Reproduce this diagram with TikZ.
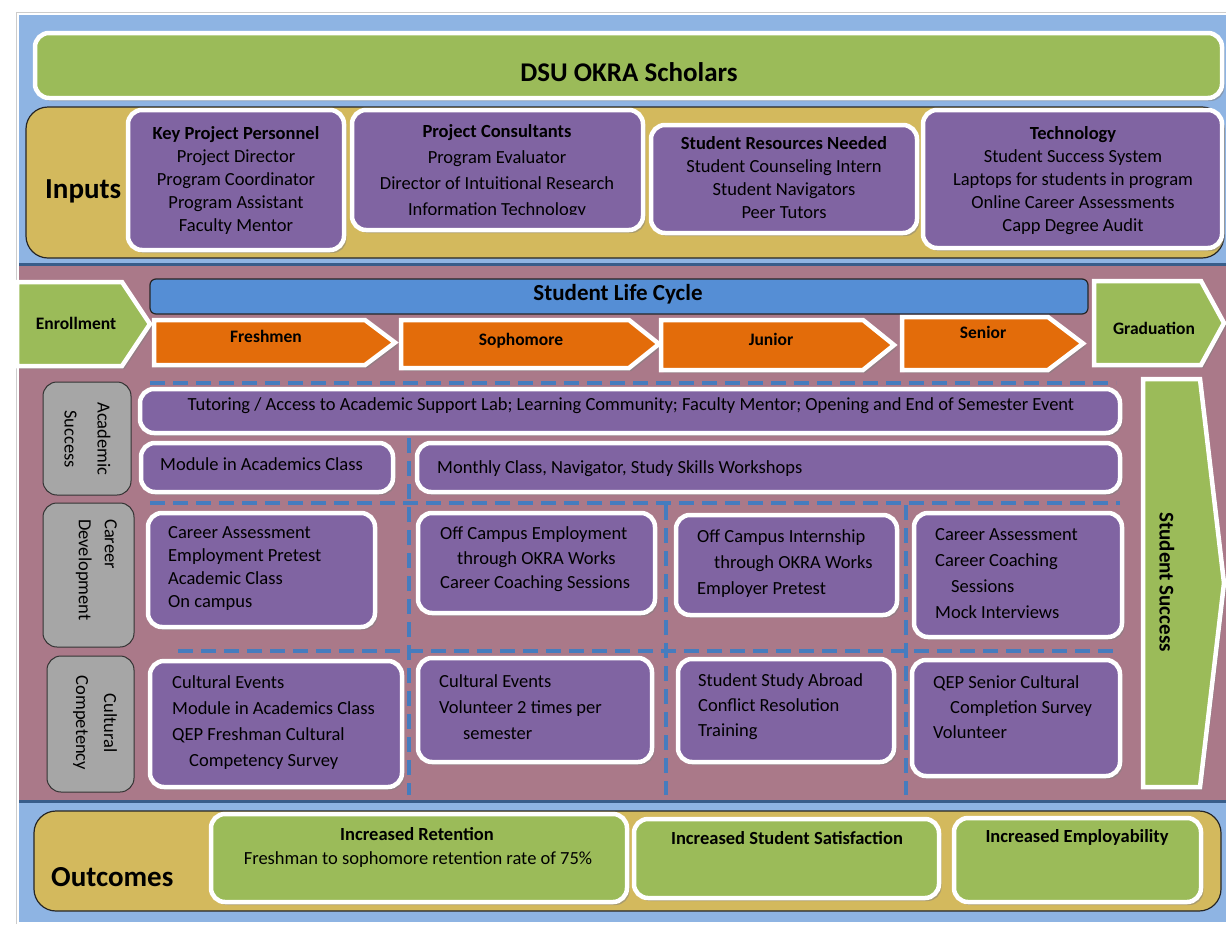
\documentclass[tikz,border=0pt]{standalone}
\usepackage{fontspec}
\setmainfont{Carlito}
\usetikzlibrary{fit,shadows,calc}

\definecolor{skyblue}{RGB}{142,180,227}
\definecolor{rulblue}{RGB}{56,93,138}
\definecolor{okgreen}{RGB}{155,187,89}
\definecolor{okgold}{RGB}{211,185,93}
\definecolor{okpurple}{RGB}{128,100,162}
\definecolor{okmauve}{RGB}{170,121,137}
\definecolor{okorange}{RGB}{227,108,10}
\definecolor{okbar}{RGB}{85,142,213}
\definecolor{okgray}{RGB}{166,166,166}
\definecolor{dashblue}{RGB}{70,124,190}

\newcommand{\bodysize}{\fontsize{18.5}{23}\selectfont}
\newcommand{\chevron}[6][chev]{% style, left, top, tip, bottom, tip length
  \draw[#1] (#2,#3) -- ({#4-#6},#3) -- (#4,{(#3+#5)/2}) -- ({#4-#6},#5) -- (#2,#5) -- cycle;}

\tikzset{
  okra/.style={x=1pt, y=-1pt, inner sep=0pt, font=\bodysize},
  band/.style={fill=okgold, draw=black!85, line width=1.2pt, rounded corners=22pt},
  card/.style={draw=white, line width=4.5pt, rounded corners=14pt,
    drop shadow={shadow xshift=2.5pt, shadow yshift=-3pt, opacity=.5}},
  pcard/.style={card, fill=okpurple},
  gcard/.style={card, fill=okgreen},
  chev/.style={card, fill=okorange, sharp corners},
  gchev/.style={chev, fill=okgreen},
  tag/.style={fill=okgray, draw=black!80, line width=1pt, rounded corners=14pt},
  lane/.style={draw=dashblue, line width=3.2pt, dash pattern=on 15pt off 8pt},
  lead/.style={font=\fontsize{18.5}{#1}\selectfont},
  txt/.style={align=left, anchor=north west},
  ctr/.style={align=center, anchor=north},
  stage/.style={anchor=base, font=\fontsize{17.5}{20}\selectfont\bfseries},
  side/.style={rotate=-90, font=\fontsize{18.5}{26}\selectfont},
  big/.style={anchor=base west, font=\fontsize{29}{34}\selectfont\bfseries}
}

\begin{document}
\begin{tikzpicture}[okra]
\useasboundingbox (0,0) rectangle (1226,924);
\fill[white] (0,0) rectangle (1226,924);
\draw[black!20, line width=1pt] (16,924) -- (16,12) -- (1226,12);
\fill[skyblue] (19,15) rectangle (1226,922);
\fill[okmauve] (19,265) rectangle (1226,800);
\draw[rulblue, line width=3pt] (19,264) -- (1226,264) (19,801) -- (1226,801);
%
\node[gcard, fit={(35,33) (1222,98)}] (title) {};
\node[anchor=base, font=\fontsize{27}{30}\selectfont\bfseries] (titletxt) at (629,81) {DSU OKRA Scholars};
%
% inputs
\node[band, fit={(26,107) (1224,258)}] (inputs) {};
\node[big] (inputstxt) at (45,198) {Inputs};
\node[pcard, fit={(128,110) (344,250)}] (kpp) {};
\node[pcard, fit={(352,110) (643,230)}] (consult) {};
\node[pcard, fit={(651,125) (917,233)}] (resource) {};
\node[pcard, fit={(923,110) (1222,248)}] (tech) {};
\node[ctr] (kpptxt) at (236,126.5) {\textbf{Key Project Personnel}\\Project Director\\Program Coordinator\\Program Assistant\\Faculty Mentor};
\begin{scope}
  \clip (352,110) rectangle (643,214);
  \node[ctr, lead=26] (consulttxt) at (497,124.5) {\textbf{Project Consultants}\\Program Evaluator\\Director of Intuitional Research\\Information Technology};
\end{scope}
\node[ctr] (resourcetxt) at (784,136.5) {\textbf{Student Resources Needed}\\Student Counseling Intern\\Student Navigators\\Peer Tutors};
\node[ctr] (techtxt) at (1073,126.5) {\textbf{Technology}\\Student Success System\\Laptops for students in program\\Online Career Assessments\\Capp Degree Audit};
%
% life cycle
\node[fill=okbar, draw=black!85, line width=1.2pt, rounded corners=6pt, fit={(150,279) (1088,314)}] (cycle) {};
\node[anchor=base, font=\fontsize{23}{26}\selectfont\bfseries] (cycletxt) at (618,300) {Student Life Cycle};
\chevron[gchev]{17}{282}{150}{366}{28}
\chevron{154}{320}{395}{365}{30}
\chevron{401}{320}{659}{368}{30}
\chevron{661}{320}{894}{370}{31}
\chevron{902}{317}{1083}{370}{35}
\chevron[gchev]{1094}{281}{1224}{365}{23}
\node[stage] (enroll) at (76,329) {Enrollment};
\node[stage] (fresh) at (266,342) {Freshmen};
\node[stage] (soph) at (521,345) {Sophomore};
\node[stage] (junior) at (771,345) {Junior};
\node[stage] (senior) at (983,338) {Senior};
\node[stage] (grad) at (1154,334) {Graduation};
\draw[gchev] (1143,379) -- (1200,379) -- (1224,583) -- (1200,787) -- (1143,787) -- cycle;
\node[rotate=-90, font=\fontsize{21}{24}\selectfont\bfseries] (success) at (1167,582) {Student Success};
%
% lanes
\draw[lane] (150,383) -- (1116,383);
\draw[lane] (150,503) -- (1120,503);
\draw[lane] (178,651) -- (1120,651);
\draw[lane] (409,438) -- (409,795);
\draw[lane] (666,505) -- (666,795);
\draw[lane] (906,505) -- (906,795);
%
\node[tag, fit={(43,382) (131,495)}] (acad) {};
\node[tag, fit={(43,503) (134,647)}] (career) {};
\node[tag, fit={(47,656) (134,792)}] (cult) {};
\node[side, align=center, font=\fontsize{18.5}{33}\selectfont] (acadtxt) at (87.5,439) {Academic\\Success};
\node[side, align=left, anchor=north west] (careertxt) at (117,519) {Career\\Development};
\node[side, align=center, font=\fontsize{18.5}{28}\selectfont] (culttxt) at (95,723) {Cultural\\Competency};
%
% academic success
\node[pcard, fit={(140,389) (1120,433)}] (tutor) {};
\node[pcard, fit={(141,443) (393,492)}] (module) {};
\node[pcard, fit={(417,443) (1120,492)}] (monthly) {};
\node[anchor=base] (tutortxt) at (631,410.5) {Tutoring / Access to Academic Support Lab; Learning Community; Faculty Mentor; Opening and End of Semester Event};
\node[anchor=base west] (moduletxt) at (160,470.5) {Module in Academics Class};
\node[anchor=base west] (monthlytxt) at (437,473.5) {Monthly Class, Navigator, Study Skills Workshops};
%
% career development
\node[pcard, fit={(148,513) (375,627)}] (cdfresh) {};
\node[pcard, fit={(418,513) (655,613)}] (cdsoph) {};
\node[pcard, fit={(676,515) (897,615)}] (cdjun) {};
\node[pcard, fit={(914,513) (1122,637)}] (cdsen) {};
\node[txt] (cdfreshtxt) at (168,526.5) {Career Assessment\\Employment Pretest\\Academic Class\\On campus};
\node[txt, lead=24.5] (cdsophtxt) at (440,526.5) {Off Campus Employment\\\hspace*{17pt}through OKRA Works\\Career Coaching Sessions};
\node[txt, lead=26] (cdjuntxt) at (697,529.5) {Off Campus Internship\\\hspace*{17pt}through OKRA Works\\Employer Pretest};
\node[txt, lead=26] (cdsentxt) at (935,528.5) {Career Assessment\\Career Coaching\\\hspace*{16pt}Sessions\\Mock Interviews};
%
% cultural competency
\node[pcard, fit={(150,661) (402,787)}] (ccfresh) {};
\node[pcard, fit={(418,658) (652,762)}] (ccsoph) {};
\node[pcard, fit={(678,659) (894,762)}] (ccjun) {};
\node[pcard, fit={(912,660) (1120,776)}] (ccsen) {};
\node[txt, lead=26] (ccfreshtxt) at (172,675.5) {Cultural Events\\Module in Academics Class\\QEP Freshman Cultural\\\hspace*{17pt}Competency Survey};
\node[txt, lead=26] (ccsophtxt) at (439,674.5) {Cultural Events\\Volunteer 2 times per\\\hspace*{24pt}semester};
\node[txt, lead=25] (ccjuntxt) at (698,673.5) {Student Study Abroad\\Conflict Resolution\\Training};
\node[txt, lead=25] (ccsentxt) at (933,675.5) {QEP Senior Cultural\\\hspace*{17pt}Completion Survey\\Volunteer};
%
% outcomes
\node[band, fit={(34,811) (1221,911)}] (outcomes) {};
\node[big] (outcomestxt) at (51,886) {Outcomes};
\node[gcard, fit={(211,814) (627,902)}] (retain) {};
\node[gcard, fit={(634,819) (939,898)}] (satisf) {};
\node[gcard, fit={(954,818) (1201,902)}] (employ) {};
\node[anchor=base, font=\bodysize\bfseries] (retaintxt) at (417,840.5) {Increased Retention};
\node[anchor=base] (ratetxt) at (418,864.5) {Freshman to sophomore retention rate of 75\%};
\node[anchor=base, font=\bodysize\bfseries] (satisftxt) at (787,844.5) {Increased Student Satisfaction};
\node[anchor=base, font=\bodysize\bfseries] (employtxt) at (1077,842.5) {Increased Employability};
\end{tikzpicture}
\end{document}
